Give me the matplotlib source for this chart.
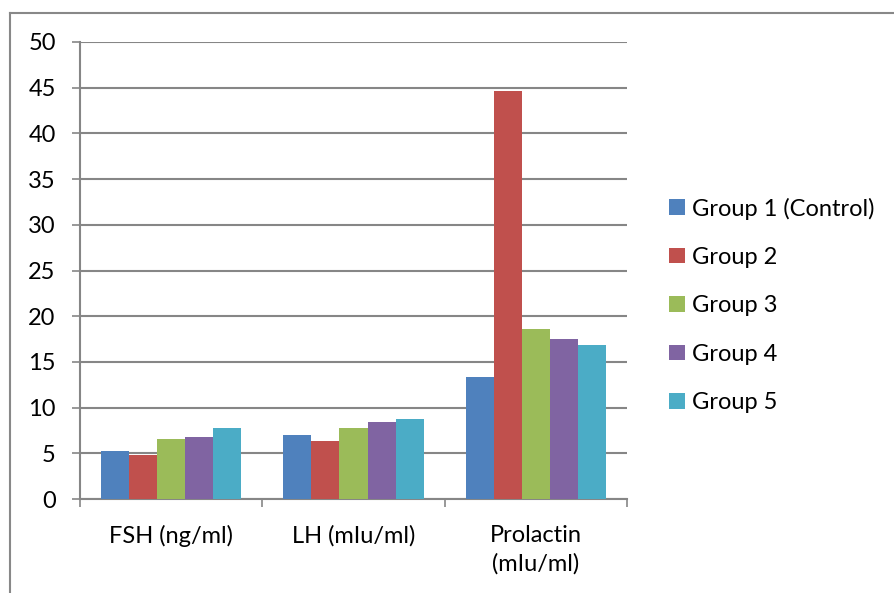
import numpy as np
import matplotlib.pyplot as plt
from matplotlib.lines import Line2D

# data
categories = ['FSH (ng/ml)', 'LH (mIu/ml)', 'Prolactin\n(mIu/ml)']
groups = ['Group 1 (Control)', 'Group 2', 'Group 3', 'Group 4', 'Group 5']
group1 = [5.2, 7.0, 13.3]
group2 = [4.8, 6.4, 44.6]
group3 = [6.6, 7.8, 18.6]
group4 = [6.8, 8.4, 17.5]
group5 = [7.8, 8.8, 16.9]
colors = ['#4F81BD', '#C0504D', '#9BBB59', '#8064A2', '#4BACC6']

plt.rcParams['font.family'] = ['Lato', 'DejaVu Sans']
fs = 17

fig = plt.figure(figsize=(8.94, 5.93), dpi=100)
ax = fig.add_axes([80/894, 1-499/593, (627-80)/894, (499-42)/593])

series = [group1, group2, group3, group4, group5]
x = np.arange(len(categories))
w = 0.154
for i, (vals, name) in enumerate(zip(series, groups)):
    ax.bar(x + (i-2)*w, vals, width=w, color=colors[i], label=name,
           edgecolor='none', zorder=3)

grid_c = '#868686'
ax.set_xlim(-0.5, 2.5)
ax.set_ylim(0, 50)
ax.set_yticks(np.arange(0, 51, 5))
ax.yaxis.grid(True, color=grid_c, linewidth=1.5, zorder=0)
ax.tick_params(axis='y', length=6, width=1.2, color=grid_c, pad=11.5, labelsize=fs)

ax.set_xticks(x)
ax.set_xticklabels(categories, linespacing=1.4)
ax.set_xticks(np.arange(-0.5, 3, 1), minor=True)
ax.tick_params(axis='x', which='major', length=0, pad=18.5, labelsize=fs)
ax.tick_params(axis='x', which='minor', length=6, width=1.2, color=grid_c)

for s in ['top', 'right']:
    ax.spines[s].set_visible(False)
for s in ['left', 'bottom']:
    ax.spines[s].set_color(grid_c)
    ax.spines[s].set_linewidth(1.5)

leg = ax.legend(loc='upper left', bbox_to_anchor=(660/894, 1-188/593),
                bbox_transform=fig.transFigure, frameon=False,
                fontsize=fs, handlelength=0.64, handleheight=0.64,
                handletextpad=0.3, labelspacing=1.16, borderaxespad=0)

# outer chart frame
fig.add_artist(Line2D([10/894, 10/894], [0, 1-13/593], color='#888888',
                      linewidth=1.5, transform=fig.transFigure))
fig.add_artist(Line2D([10/894, 1], [1-13/593, 1-13/593], color='#888888',
                      linewidth=1.5, transform=fig.transFigure))

fig.savefig('out.png', dpi=100)
